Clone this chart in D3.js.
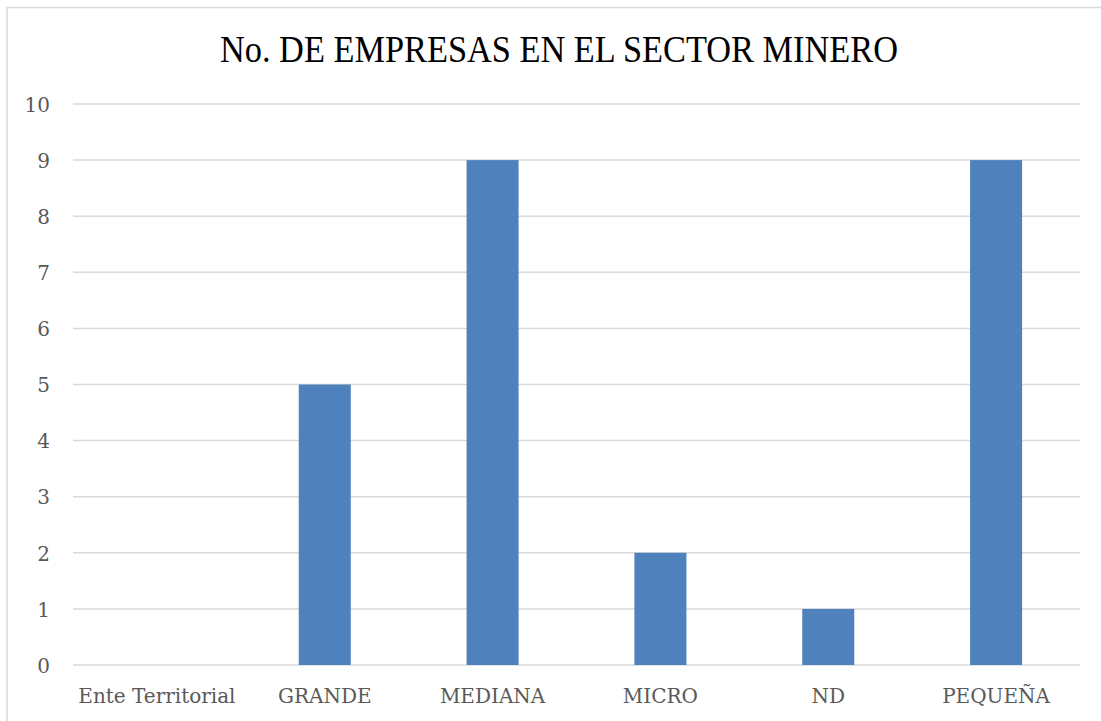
<!DOCTYPE html>
<html><head><meta charset="utf-8">
<script src="https://cdn.jsdelivr.net/npm/d3@7"></script>
<style>html,body{margin:0;padding:0;background:#fff;}svg{display:block;}</style>
</head><body>
<svg id="c" width="1101" height="721"></svg>
<script>
const categories = ["Ente Territorial", "GRANDE", "MEDIANA", "MICRO", "ND", "PEQUEÑA"];
const values = [0, 5, 9, 2, 1, 9];
const yTicks = [0, 1, 2, 3, 4, 5, 6, 7, 8, 9, 10];
const title = "No. DE EMPRESAS EN EL SECTOR MINERO";

const svg = d3.select("#c");
svg.append("rect").attr("x", 7).attr("y", 7.5).attr("width", 1110).attr("height", 730)
  .attr("fill", "#fff").attr("stroke", "#d9d9d9").attr("stroke-width", 1.5);

const m = {left: 73, right: 1080, top: 104, bottom: 665};
const x = d3.scaleBand().domain(categories).range([m.left, m.right]).paddingInner(0.69).paddingOuter(0.345);
const y = d3.scaleLinear().domain([0, 10]).range([m.bottom, m.top]);

const g = svg.append("g");
g.selectAll("line.grid").data(yTicks).join("line")
  .attr("x1", m.left).attr("x2", m.right)
  .attr("y1", d => y(d)).attr("y2", d => y(d))
  .attr("stroke", "#d9d9d9").attr("stroke-width", 1.5);

g.selectAll("rect.bar").data(values).join("rect")
  .attr("x", (d, i) => x(categories[i]))
  .attr("width", x.bandwidth())
  .attr("y", d => y(d))
  .attr("height", d => y(0) - y(d))
  .attr("fill", "#4f81bd");

const font = "DejaVu Serif";
const yAxis = d3.axisLeft(y).tickValues(yTicks).tickSize(0).tickPadding(0);
const ya = svg.append("g").attr("transform", `translate(50,0)`).call(yAxis);
ya.select(".domain").remove();
ya.selectAll("text").attr("font-family", font).attr("font-size", 20).attr("fill", "#595959").attr("dy", "0.36em");

const xAxis = d3.axisBottom(x).tickSize(0).tickPadding(0);
const xa = svg.append("g").attr("transform", `translate(0,${m.bottom})`).call(xAxis);
xa.select(".domain").remove();
xa.selectAll("text").attr("font-family", font).attr("font-size", 20).attr("fill", "#595959").attr("dy", 0).attr("y", 38);

svg.append("text").attr("x", 559).attr("y", 62).attr("text-anchor", "middle")
  .attr("font-family", "Liberation Serif").attr("font-size", 38)
  .attr("textLength", 678).attr("lengthAdjust", "spacingAndGlyphs")
  .attr("fill", "#000").text(title);
</script>
</body></html>
